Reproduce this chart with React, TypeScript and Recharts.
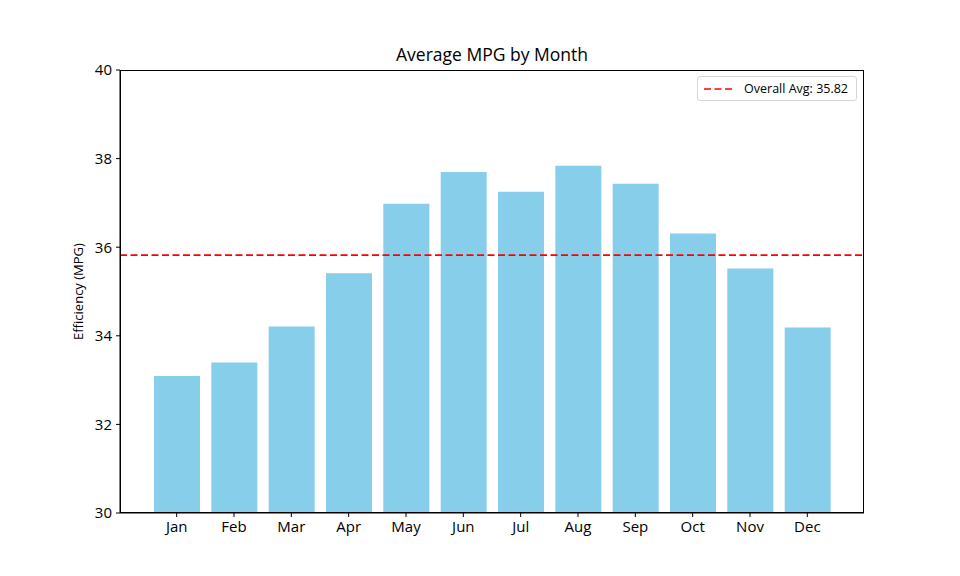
import React from "react";
import { BarChart, Bar, XAxis, YAxis, ReferenceLine } from "recharts";

const months = ["Jan", "Feb", "Mar", "Apr", "May", "Jun", "Jul", "Aug", "Sep", "Oct", "Nov", "Dec"];
const avgMpg = [33.09, 33.4, 34.21, 35.41, 36.98, 37.7, 37.25, 37.84, 37.43, 36.31, 35.52, 34.19];
const overallAvg = 35.82;
const yTicks = [30, 32, 34, 36, 38, 40];

const FONT = "'Open Sans', 'DejaVu Sans', sans-serif";
const BAR = "#87CEEB";

const rows = months.map((m, i) => ({ month: m, mpg: avgMpg[i] }));

function AvgLegend() {
  return (
    <div
      style={{
        position: "absolute",
        top: 76,
        right: 103,
        display: "flex",
        alignItems: "center",
        border: "1px solid #d6d6d6",
        borderRadius: 3,
        background: "#fff",
        padding: "3px 8px 3px 6px",
        fontFamily: FONT,
        fontSize: 12.5,
        color: "#000",
      }}
    >
      <svg width={30} height={8} style={{ marginRight: 10 }}>
        <line x1={0} y1={4} x2={30} y2={4} stroke="red" strokeWidth={1.7} strokeDasharray="7 3.5" />
      </svg>
      <span>Overall Avg: {overallAvg.toFixed(2)}</span>
    </div>
  );
}

export default function App() {
  return (
    <div style={{ position: "absolute", left: 0, top: 0, width: 960, height: 576, background: "#fff" }}>
      <div
        style={{
          position: "absolute",
          top: 42,
          left: 120,
          width: 744,
          textAlign: "center",
          fontFamily: FONT,
          fontSize: 17.5,
          color: "#000",
        }}
      >
        Average MPG by Month
      </div>
      <BarChart width={960} height={576} data={rows} margin={{ top: 70, right: 96, bottom: 0, left: 0 }} barSize={46}>
        <XAxis
          dataKey="month"
          height={63}
          padding={{ left: 28, right: 28 }}
          tickSize={4}
          tickLine={{ stroke: "#000" }}
          axisLine={{ stroke: "#000" }}
          tick={{ fill: "#000", fontSize: 15, fontFamily: FONT }}
          tickMargin={4}
        />
        <YAxis
          width={120}
          domain={[30, 40]}
          ticks={yTicks}
          tickSize={4}
          tickLine={{ stroke: "#000" }}
          axisLine={{ stroke: "#000" }}
          tick={{ fill: "#000", fontSize: 15, fontFamily: FONT }}
          tickMargin={4}
          allowDataOverflow
          label={{
            value: "Efficiency (MPG)",
            angle: -90,
            position: "insideLeft",
            offset: 78,
            style: { fill: "#000", fontSize: 13, fontFamily: FONT, textAnchor: "middle" },
          }}
        />
        <Bar dataKey="mpg" fill={BAR} isAnimationActive={false} />
        <ReferenceLine y={overallAvg} stroke="red" strokeWidth={1.7} strokeDasharray="7 3.5" />
      </BarChart>
      {/* axes frame (matplotlib spines) */}
      <div
        style={{
          position: "absolute",
          left: 120,
          top: 70,
          width: 744,
          height: 443,
          border: "1px solid #000",
          boxSizing: "border-box",
          pointerEvents: "none",
        }}
      />
      <AvgLegend />
    </div>
  );
}
